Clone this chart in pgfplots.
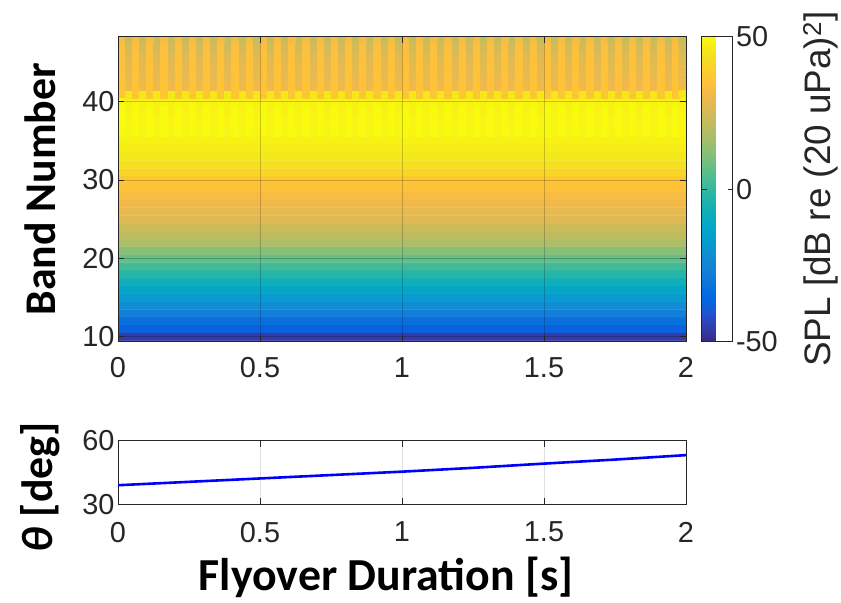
\documentclass[border=0pt]{standalone}
\usepackage{fontspec}
\setmainfont{Liberation Sans}
\newfontfamily\calib{Carlito}
\usepackage{pgfplots}
\pgfplotsset{compat=1.18}
\pgfplotsset{colormap={parula}{
rgb=(0.2081,0.1663,0.5292) rgb=(0.2081,0.2386,0.6771) rgb=(0.1253,0.3242,0.8303)
rgb=(0.0060,0.4086,0.8828) rgb=(0.0498,0.4586,0.8641) rgb=(0.0779,0.5040,0.8384)
rgb=(0.0641,0.5570,0.8240) rgb=(0.0265,0.6137,0.8135) rgb=(0.0228,0.6535,0.7768)
rgb=(0.0590,0.6838,0.7254) rgb=(0.1453,0.7098,0.6646) rgb=(0.2586,0.7317,0.5954)
rgb=(0.3953,0.7459,0.5244) rgb=(0.5300,0.7491,0.4661) rgb=(0.6473,0.7456,0.4188)
rgb=(0.7525,0.7384,0.3768) rgb=(0.8507,0.7299,0.3360) rgb=(0.9450,0.7261,0.2886)
rgb=(0.9990,0.7653,0.2164) rgb=(0.9788,0.8271,0.1633) rgb=(0.9589,0.8949,0.1132)
rgb=(0.9763,0.9831,0.0538)}}
\definecolor{mgray}{rgb}{0.15,0.15,0.15}
\begin{document}
\begin{tikzpicture}[x=1bp,y=1bp]
\path[use as bounding box] (0,0) rectangle (841,-603);
\begin{axis}[
  at={(118bp,-36.7bp)}, anchor=north west,
  scale only axis, width=568bp, height=305bp,
  xmin=-0.5, xmax=79.5, ymin=9.36, ymax=48.3,
  xtick={-0.5,19.5,39.5,59.5,79.5}, xticklabels={0,0.5,1,1.5,2},
  ytick={10,20,30,40}, yticklabels={10,20,30,40},
  /pgf/number format/assume math mode=true,
  axis on top,
  grid=major, grid style={black, opacity=0.2, line width=0.6bp},
  tick align=inside, major tick length=6bp,
  axis line style={draw=mgray, line width=0.8bp},
  every tick/.style={draw=mgray, line width=0.8bp},
  tick label style={font=\fontsize{29}{29}\selectfont, text=mgray},
  xticklabel style={yshift=-12bp},
  colormap name=parula,
  point meta min=-50, point meta max=50,
  colorbar,
  colorbar style={
    at={(parent axis.north east)}, anchor=north west, xshift=7bp,
    scale only axis, width=31bp, height=305bp,
    ytick={-50,0,50}, yticklabels={-50,0,50},
    tick align=inside, major tick length=5bp,
    axis line style={draw=mgray, line width=0.8bp},
    every tick/.style={draw=mgray, line width=0.8bp},
    yticklabel style={font=\fontsize{29}{29}\selectfont, text=mgray},
    ylabel={SPL [dB re (20 uPa)\textsuperscript{2}]},
    ylabel style={font=\fontsize{37}{37}\selectfont, text=mgray,
      at={(axis description cs:3.84,0.5)}, anchor=center},
  },
  ylabel={\calib\bfseries Band Number},
  ylabel style={font=\fontsize{44}{44}\selectfont,
    at={(axis description cs:-0.137,0.5)}, anchor=center},
]
\addplot[matrix plot*, mesh/cols=2, point meta=explicit] table[x index=0, y index=1, meta index=2] {
19.5 10 -46
59.5 10 -46
19.5 11 -37
59.5 11 -37
19.5 12 -33
59.5 12 -33
19.5 13 -27
59.5 13 -27
19.5 14 -22
59.5 14 -22
19.5 15 -17
59.5 15 -17
19.5 16 -12
59.5 16 -12
19.5 17 -7
59.5 17 -7
19.5 18 -2
59.5 18 -2
19.5 19 2
59.5 19 2
19.5 20 7
59.5 20 7
19.5 21 12
59.5 21 12
19.5 22 18
59.5 22 18
19.5 23 21
59.5 23 21
19.5 24 24
59.5 24 24
19.5 25 27
59.5 25 27
19.5 26 29
59.5 26 29
19.5 27 31
59.5 27 31
19.5 28 33
59.5 28 33
19.5 29 35
59.5 29 35
19.5 30 37
59.5 30 37
19.5 31 41
59.5 31 41
19.5 32 44
59.5 32 44
19.5 33 46
59.5 33 46
19.5 34 47
59.5 34 47
19.5 35 48
59.5 35 48
};
\addplot[matrix plot*, mesh/cols=80, point meta=explicit] table[x index=0, y index=1, meta index=2] {
0 36 50
1 36 48.5
2 36 50
3 36 48.5
4 36 50
5 36 48.5
6 36 50
7 36 48.5
8 36 50
9 36 48.5
10 36 50
11 36 48.5
12 36 50
13 36 48.5
14 36 50
15 36 48.5
16 36 50
17 36 48.5
18 36 50
19 36 48.5
20 36 50
21 36 48.5
22 36 50
23 36 48.5
24 36 50
25 36 48.5
26 36 50
27 36 48.5
28 36 50
29 36 48.5
30 36 50
31 36 48.5
32 36 50
33 36 48.5
34 36 50
35 36 48.5
36 36 50
37 36 48.5
38 36 50
39 36 48.5
40 36 50
41 36 48.5
42 36 50
43 36 48.5
44 36 50
45 36 48.5
46 36 50
47 36 48.5
48 36 50
49 36 48.5
50 36 50
51 36 48.5
52 36 50
53 36 48.5
54 36 50
55 36 48.5
56 36 50
57 36 48.5
58 36 50
59 36 48.5
60 36 50
61 36 48.5
62 36 50
63 36 48.5
64 36 50
65 36 48.5
66 36 50
67 36 48.5
68 36 50
69 36 48.5
70 36 50
71 36 48.5
72 36 50
73 36 48.5
74 36 50
75 36 48.5
76 36 50
77 36 48.5
78 36 50
79 36 48.5
0 37 50
1 37 48.5
2 37 50
3 37 48.5
4 37 50
5 37 48.5
6 37 50
7 37 48.5
8 37 50
9 37 48.5
10 37 50
11 37 48.5
12 37 50
13 37 48.5
14 37 50
15 37 48.5
16 37 50
17 37 48.5
18 37 50
19 37 48.5
20 37 50
21 37 48.5
22 37 50
23 37 48.5
24 37 50
25 37 48.5
26 37 50
27 37 48.5
28 37 50
29 37 48.5
30 37 50
31 37 48.5
32 37 50
33 37 48.5
34 37 50
35 37 48.5
36 37 50
37 37 48.5
38 37 50
39 37 48.5
40 37 50
41 37 48.5
42 37 50
43 37 48.5
44 37 50
45 37 48.5
46 37 50
47 37 48.5
48 37 50
49 37 48.5
50 37 50
51 37 48.5
52 37 50
53 37 48.5
54 37 50
55 37 48.5
56 37 50
57 37 48.5
58 37 50
59 37 48.5
60 37 50
61 37 48.5
62 37 50
63 37 48.5
64 37 50
65 37 48.5
66 37 50
67 37 48.5
68 37 50
69 37 48.5
70 37 50
71 37 48.5
72 37 50
73 37 48.5
74 37 50
75 37 48.5
76 37 50
77 37 48.5
78 37 50
79 37 48.5
0 38 50
1 38 48.5
2 38 50
3 38 48.5
4 38 50
5 38 48.5
6 38 50
7 38 48.5
8 38 50
9 38 48.5
10 38 50
11 38 48.5
12 38 50
13 38 48.5
14 38 50
15 38 48.5
16 38 50
17 38 48.5
18 38 50
19 38 48.5
20 38 50
21 38 48.5
22 38 50
23 38 48.5
24 38 50
25 38 48.5
26 38 50
27 38 48.5
28 38 50
29 38 48.5
30 38 50
31 38 48.5
32 38 50
33 38 48.5
34 38 50
35 38 48.5
36 38 50
37 38 48.5
38 38 50
39 38 48.5
40 38 50
41 38 48.5
42 38 50
43 38 48.5
44 38 50
45 38 48.5
46 38 50
47 38 48.5
48 38 50
49 38 48.5
50 38 50
51 38 48.5
52 38 50
53 38 48.5
54 38 50
55 38 48.5
56 38 50
57 38 48.5
58 38 50
59 38 48.5
60 38 50
61 38 48.5
62 38 50
63 38 48.5
64 38 50
65 38 48.5
66 38 50
67 38 48.5
68 38 50
69 38 48.5
70 38 50
71 38 48.5
72 38 50
73 38 48.5
74 38 50
75 38 48.5
76 38 50
77 38 48.5
78 38 50
79 38 48.5
0 39 50
1 39 48
2 39 50
3 39 48
4 39 50
5 39 48
6 39 50
7 39 48
8 39 50
9 39 48
10 39 50
11 39 48
12 39 50
13 39 48
14 39 50
15 39 48
16 39 50
17 39 48
18 39 50
19 39 48
20 39 50
21 39 48
22 39 50
23 39 48
24 39 50
25 39 48
26 39 50
27 39 48
28 39 50
29 39 48
30 39 50
31 39 48
32 39 50
33 39 48
34 39 50
35 39 48
36 39 50
37 39 48
38 39 50
39 39 48
40 39 50
41 39 48
42 39 50
43 39 48
44 39 50
45 39 48
46 39 50
47 39 48
48 39 50
49 39 48
50 39 50
51 39 48
52 39 50
53 39 48
54 39 50
55 39 48
56 39 50
57 39 48
58 39 50
59 39 48
60 39 50
61 39 48
62 39 50
63 39 48
64 39 50
65 39 48
66 39 50
67 39 48
68 39 50
69 39 48
70 39 50
71 39 48
72 39 50
73 39 48
74 39 50
75 39 48
76 39 50
77 39 48
78 39 50
79 39 48
0 40 49
1 40 48
2 40 49
3 40 48
4 40 49
5 40 48
6 40 49
7 40 48
8 40 49
9 40 48
10 40 49
11 40 48
12 40 49
13 40 48
14 40 49
15 40 48
16 40 49
17 40 48
18 40 49
19 40 48
20 40 49
21 40 48
22 40 49
23 40 48
24 40 49
25 40 48
26 40 49
27 40 48
28 40 49
29 40 48
30 40 49
31 40 48
32 40 49
33 40 48
34 40 49
35 40 48
36 40 49
37 40 48
38 40 49
39 40 48
40 40 49
41 40 48
42 40 49
43 40 48
44 40 49
45 40 48
46 40 49
47 40 48
48 40 49
49 40 48
50 40 49
51 40 48
52 40 49
53 40 48
54 40 49
55 40 48
56 40 49
57 40 48
58 40 49
59 40 48
60 40 49
61 40 48
62 40 49
63 40 48
64 40 49
65 40 48
66 40 49
67 40 48
68 40 49
69 40 48
70 40 49
71 40 48
72 40 49
73 40 48
74 40 49
75 40 48
76 40 49
77 40 48
78 40 49
79 40 48
0 41 37
1 41 46
2 41 37
3 41 46
4 41 37
5 41 46
6 41 37
7 41 46
8 41 37
9 41 46
10 41 37
11 41 46
12 41 37
13 41 46
14 41 37
15 41 46
16 41 37
17 41 46
18 41 37
19 41 46
20 41 37
21 41 46
22 41 37
23 41 46
24 41 37
25 41 46
26 41 37
27 41 46
28 41 37
29 41 46
30 41 37
31 41 46
32 41 37
33 41 46
34 41 37
35 41 46
36 41 37
37 41 46
38 41 37
39 41 46
40 41 37
41 41 46
42 41 37
43 41 46
44 41 37
45 41 46
46 41 37
47 41 46
48 41 37
49 41 46
50 41 37
51 41 46
52 41 37
53 41 46
54 41 37
55 41 46
56 41 37
57 41 46
58 41 37
59 41 46
60 41 37
61 41 46
62 41 37
63 41 46
64 41 37
65 41 46
66 41 37
67 41 46
68 41 37
69 41 46
70 41 37
71 41 46
72 41 37
73 41 46
74 41 37
75 41 46
76 41 37
77 41 46
78 41 37
79 41 46
0 42 36
1 42 31
2 42 36
3 42 31
4 42 36
5 42 31
6 42 36
7 42 31
8 42 36
9 42 31
10 42 36
11 42 31
12 42 36
13 42 31
14 42 36
15 42 31
16 42 36
17 42 31
18 42 36
19 42 31
20 42 36
21 42 31
22 42 36
23 42 31
24 42 36
25 42 31
26 42 36
27 42 31
28 42 36
29 42 31
30 42 36
31 42 31
32 42 36
33 42 31
34 42 36
35 42 31
36 42 36
37 42 31
38 42 36
39 42 31
40 42 36
41 42 31
42 42 36
43 42 31
44 42 36
45 42 31
46 42 36
47 42 31
48 42 36
49 42 31
50 42 36
51 42 31
52 42 36
53 42 31
54 42 36
55 42 31
56 42 36
57 42 31
58 42 36
59 42 31
60 42 36
61 42 31
62 42 36
63 42 31
64 42 36
65 42 31
66 42 36
67 42 31
68 42 36
69 42 31
70 42 36
71 42 31
72 42 36
73 42 31
74 42 36
75 42 31
76 42 36
77 42 31
78 42 36
79 42 31
0 43 35
1 43 30
2 43 35
3 43 30
4 43 35
5 43 30
6 43 35
7 43 30
8 43 35
9 43 30
10 43 35
11 43 30
12 43 35
13 43 30
14 43 35
15 43 30
16 43 35
17 43 30
18 43 35
19 43 30
20 43 35
21 43 30
22 43 35
23 43 30
24 43 35
25 43 30
26 43 35
27 43 30
28 43 35
29 43 30
30 43 35
31 43 30
32 43 35
33 43 30
34 43 35
35 43 30
36 43 35
37 43 30
38 43 35
39 43 30
40 43 35
41 43 30
42 43 35
43 43 30
44 43 35
45 43 30
46 43 35
47 43 30
48 43 35
49 43 30
50 43 35
51 43 30
52 43 35
53 43 30
54 43 35
55 43 30
56 43 35
57 43 30
58 43 35
59 43 30
60 43 35
61 43 30
62 43 35
63 43 30
64 43 35
65 43 30
66 43 35
67 43 30
68 43 35
69 43 30
70 43 35
71 43 30
72 43 35
73 43 30
74 43 35
75 43 30
76 43 35
77 43 30
78 43 35
79 43 30
0 44 35
1 44 29
2 44 35
3 44 29
4 44 35
5 44 29
6 44 35
7 44 29
8 44 35
9 44 29
10 44 35
11 44 29
12 44 35
13 44 29
14 44 35
15 44 29
16 44 35
17 44 29
18 44 35
19 44 29
20 44 35
21 44 29
22 44 35
23 44 29
24 44 35
25 44 29
26 44 35
27 44 29
28 44 35
29 44 29
30 44 35
31 44 29
32 44 35
33 44 29
34 44 35
35 44 29
36 44 35
37 44 29
38 44 35
39 44 29
40 44 35
41 44 29
42 44 35
43 44 29
44 44 35
45 44 29
46 44 35
47 44 29
48 44 35
49 44 29
50 44 35
51 44 29
52 44 35
53 44 29
54 44 35
55 44 29
56 44 35
57 44 29
58 44 35
59 44 29
60 44 35
61 44 29
62 44 35
63 44 29
64 44 35
65 44 29
66 44 35
67 44 29
68 44 35
69 44 29
70 44 35
71 44 29
72 44 35
73 44 29
74 44 35
75 44 29
76 44 35
77 44 29
78 44 35
79 44 29
0 45 35
1 45 28
2 45 35
3 45 28
4 45 35
5 45 28
6 45 35
7 45 28
8 45 35
9 45 28
10 45 35
11 45 28
12 45 35
13 45 28
14 45 35
15 45 28
16 45 35
17 45 28
18 45 35
19 45 28
20 45 35
21 45 28
22 45 35
23 45 28
24 45 35
25 45 28
26 45 35
27 45 28
28 45 35
29 45 28
30 45 35
31 45 28
32 45 35
33 45 28
34 45 35
35 45 28
36 45 35
37 45 28
38 45 35
39 45 28
40 45 35
41 45 28
42 45 35
43 45 28
44 45 35
45 45 28
46 45 35
47 45 28
48 45 35
49 45 28
50 45 35
51 45 28
52 45 35
53 45 28
54 45 35
55 45 28
56 45 35
57 45 28
58 45 35
59 45 28
60 45 35
61 45 28
62 45 35
63 45 28
64 45 35
65 45 28
66 45 35
67 45 28
68 45 35
69 45 28
70 45 35
71 45 28
72 45 35
73 45 28
74 45 35
75 45 28
76 45 35
77 45 28
78 45 35
79 45 28
0 46 34
1 46 27
2 46 34
3 46 27
4 46 34
5 46 27
6 46 34
7 46 27
8 46 34
9 46 27
10 46 34
11 46 27
12 46 34
13 46 27
14 46 34
15 46 27
16 46 34
17 46 27
18 46 34
19 46 27
20 46 34
21 46 27
22 46 34
23 46 27
24 46 34
25 46 27
26 46 34
27 46 27
28 46 34
29 46 27
30 46 34
31 46 27
32 46 34
33 46 27
34 46 34
35 46 27
36 46 34
37 46 27
38 46 34
39 46 27
40 46 34
41 46 27
42 46 34
43 46 27
44 46 34
45 46 27
46 46 34
47 46 27
48 46 34
49 46 27
50 46 34
51 46 27
52 46 34
53 46 27
54 46 34
55 46 27
56 46 34
57 46 27
58 46 34
59 46 27
60 46 34
61 46 27
62 46 34
63 46 27
64 46 34
65 46 27
66 46 34
67 46 27
68 46 34
69 46 27
70 46 34
71 46 27
72 46 34
73 46 27
74 46 34
75 46 27
76 46 34
77 46 27
78 46 34
79 46 27
0 47 34
1 47 25
2 47 34
3 47 25
4 47 34
5 47 25
6 47 34
7 47 25
8 47 34
9 47 25
10 47 34
11 47 25
12 47 34
13 47 25
14 47 34
15 47 25
16 47 34
17 47 25
18 47 34
19 47 25
20 47 34
21 47 25
22 47 34
23 47 25
24 47 34
25 47 25
26 47 34
27 47 25
28 47 34
29 47 25
30 47 34
31 47 25
32 47 34
33 47 25
34 47 34
35 47 25
36 47 34
37 47 25
38 47 34
39 47 25
40 47 34
41 47 25
42 47 34
43 47 25
44 47 34
45 47 25
46 47 34
47 47 25
48 47 34
49 47 25
50 47 34
51 47 25
52 47 34
53 47 25
54 47 34
55 47 25
56 47 34
57 47 25
58 47 34
59 47 25
60 47 34
61 47 25
62 47 34
63 47 25
64 47 34
65 47 25
66 47 34
67 47 25
68 47 34
69 47 25
70 47 34
71 47 25
72 47 34
73 47 25
74 47 34
75 47 25
76 47 34
77 47 25
78 47 34
79 47 25
0 48 33
1 48 23
2 48 33
3 48 23
4 48 33
5 48 23
6 48 33
7 48 23
8 48 33
9 48 23
10 48 33
11 48 23
12 48 33
13 48 23
14 48 33
15 48 23
16 48 33
17 48 23
18 48 33
19 48 23
20 48 33
21 48 23
22 48 33
23 48 23
24 48 33
25 48 23
26 48 33
27 48 23
28 48 33
29 48 23
30 48 33
31 48 23
32 48 33
33 48 23
34 48 33
35 48 23
36 48 33
37 48 23
38 48 33
39 48 23
40 48 33
41 48 23
42 48 33
43 48 23
44 48 33
45 48 23
46 48 33
47 48 23
48 48 33
49 48 23
50 48 33
51 48 23
52 48 33
53 48 23
54 48 33
55 48 23
56 48 33
57 48 23
58 48 33
59 48 23
60 48 33
61 48 23
62 48 33
63 48 23
64 48 33
65 48 23
66 48 33
67 48 23
68 48 33
69 48 23
70 48 33
71 48 23
72 48 33
73 48 23
74 48 33
75 48 23
76 48 33
77 48 23
78 48 33
79 48 23
};
\end{axis}
\begin{axis}[
  at={(118bp,-440.7bp)}, anchor=north west,
  scale only axis, width=568bp, height=63.6bp,
  xmin=0, xmax=2, ymin=30, ymax=60,
  xtick={0,0.5,1,1.5,2}, ytick={30,60},
  grid=major, grid style={black!12, line width=0.6bp},
  tick align=inside, major tick length=6bp,
  axis line style={draw=mgray, line width=0.8bp},
  every tick/.style={draw=mgray, line width=0.8bp},
  tick label style={font=\fontsize{29}{29}\selectfont, text=mgray},
  xticklabel style={yshift=-14bp},
  /pgf/number format/assume math mode=true,
  xticklabels={0,0.5,1,1.5,2}, yticklabels={30,60},
  xlabel={\calib\bfseries Flyover Duration [s]},
  xlabel style={font=\fontsize{46}{46}\selectfont,
    at={(axis description cs:0.472,-1.143)}, anchor=center},
  ylabel={\calib\bfseries{\itshape θ} [deg]},
  ylabel style={font=\fontsize{44}{44}\selectfont,
    at={(axis description cs:-0.137,0.27)}, anchor=center},
]
\addplot[blue, line width=2.6bp] coordinates {
(0,39.0) (0.25,40.6) (0.5,42.2) (0.75,43.8) (1,45.4) (1.25,47.2) (1.5,49.2) (1.75,51.1) (2,53.2)
};
\end{axis}
\end{tikzpicture}
\end{document}
